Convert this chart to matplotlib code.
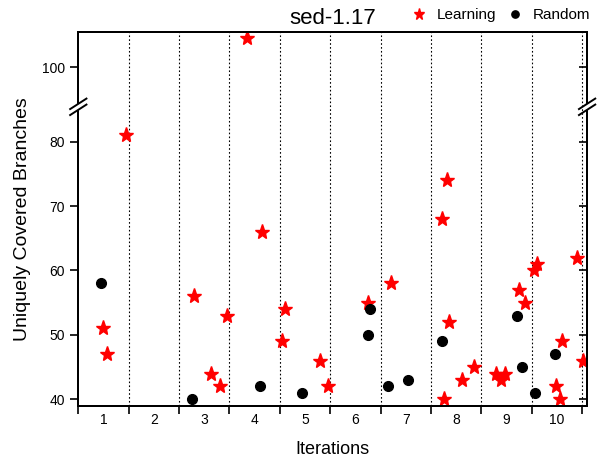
import numpy as np
import matplotlib
matplotlib.use("Agg")
import matplotlib.pyplot as plt
from matplotlib.ticker import NullLocator

plt.rcParams["font.family"] = ["Liberation Sans", "DejaVu Sans"]

# x is position within iteration band (band i spans i-1..i)
learn_x = [0.94, 0.49, 0.56, 2.29, 2.64, 2.81, 2.95, 3.34, 3.65, 4.11, 4.05,
           4.80, 4.95, 5.75, 6.20, 7.21, 7.31, 7.36, 7.26, 7.61, 7.85, 8.30,
           8.47, 8.40, 8.75, 8.86, 9.05, 9.10, 9.49, 9.56, 9.61, 9.90, 10.01]
learn_y = [81, 51, 47, 56, 44, 42, 53, 104.5, 66, 54, 49,
           46, 42, 55, 58, 68, 74, 52, 40, 43, 45, 44,
           44, 43, 57, 55, 60, 61, 42, 40, 49, 62, 46]
rand_x = [0.45, 2.25, 3.60, 4.45, 5.75, 5.80, 6.15, 6.55, 7.21, 8.70, 8.81,
          9.06, 9.46]
rand_y = [58, 40, 42, 41, 50, 54, 42, 43, 49, 53, 45, 41, 47]

iter_labels = ["1", "2", "3", "4", "5", "6", "7", "8", "9", "10"]
y_ticks = [40, 50, 60, 70, 80, 100]

# broken y axis: values above the gap are shifted down
lo, hi = 85.4, 93.85
gap = hi - lo
ybot, ytop = 38.96, 105.48


def fwd(v):
    v = np.asarray(v, dtype=float)
    return np.where(v <= lo, v, np.where(v >= hi, v - gap, lo))


def inv(u):
    u = np.asarray(u, dtype=float)
    return np.where(u <= lo, u, u + gap)


fig = plt.figure(figsize=(6, 4.59), dpi=100)
ax = fig.add_axes([0.1305, 0.1155, 0.848, 0.815])
ax.set_yscale("function", functions=(fwd, inv))

ax.plot(learn_x, learn_y, "*", color="red", ms=11, ls="none",
        label="Learning", zorder=3)
ax.plot(rand_x, rand_y, "o", color="black", ms=7, ls="none",
        label="Random", zorder=3)

ax.set_xlim(0, 10.1)
ax.set_ylim(ybot, ytop)

# iteration separators
for b in range(1, 11):
    ax.axvline(b, color="black", lw=0.8, ls=(0, (1.5, 2)), zorder=1)

ax.set_xticks(range(0, 11))
ax.set_xticklabels([])
ax.set_xticks(np.arange(10) + 0.5, minor=True)
ax.set_xticklabels(iter_labels, minor=True)
ax.tick_params(axis="x", which="major", direction="out", length=6, width=1.2)
ax.tick_params(axis="x", which="minor", length=0, labelsize=10, pad=5)

ax.set_yticks(y_ticks)
ax.set_yticklabels([str(t) for t in y_ticks])
ax.yaxis.set_minor_locator(NullLocator())
ax.tick_params(axis="y", direction="out", length=6, width=1.2, labelsize=10)

# inward ticks on the right spine
ax2 = ax.twinx()
ax2.set_yscale("function", functions=(fwd, inv))
ax2.set_ylim(ybot, ytop)
ax2.set_yticks(y_ticks)
ax2.set_yticklabels([])
ax2.yaxis.set_minor_locator(NullLocator())
ax2.tick_params(axis="y", direction="in", length=6, width=1.2)

for a in (ax, ax2):
    for s in a.spines.values():
        s.set_linewidth(1.4)

# break marks on both vertical spines
ybrk = (lo - ybot) / (ytop - gap - ybot)
dx, dy, sep = 0.016, 0.014, 0.016
for xs in (0.0, 1.0):
    ax2.plot([xs, xs], [ybrk - sep / 2, ybrk + sep / 2], transform=ax.transAxes,
             color="white", lw=3, clip_on=False, zorder=5,
             solid_capstyle="butt")
    for off in (-sep / 2, sep / 2):
        ax2.plot([xs - dx, xs + dx], [ybrk + off - dy, ybrk + off + dy],
                 transform=ax.transAxes, color="black", lw=1.4,
                 clip_on=False, zorder=6)

ax.set_xlabel("Iterations", fontsize=13, labelpad=10)
ax.set_ylabel("Uniquely Covered Branches", fontsize=14, labelpad=8)
ax.set_title("sed-1.17", fontsize=16, pad=6)

ax.legend(loc="lower right", bbox_to_anchor=(1.018, 1.01), ncol=2,
          frameon=False, fontsize=11, handletextpad=0.4, columnspacing=0.5,
          handlelength=1.5, markerscale=0.75, borderaxespad=0)

fig.savefig("out.png", dpi=100)
